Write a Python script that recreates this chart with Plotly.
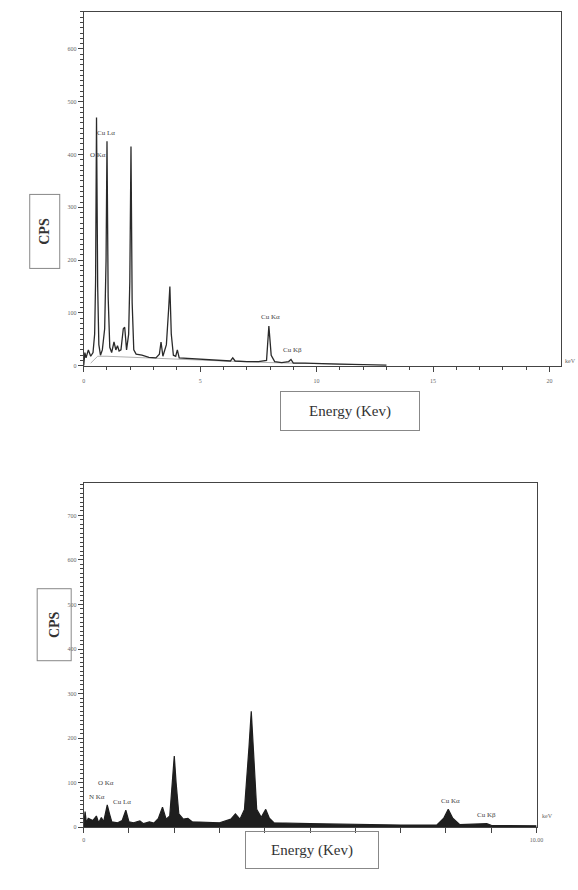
import plotly.graph_objects as go

# ---- Top spectrum (energy keV, CPS) ----
top_energy = [0.0, 0.05, 0.1, 0.2, 0.3, 0.4, 0.47, 0.51, 0.55, 0.6, 0.65, 0.72, 0.8, 0.9, 0.96, 1.0, 1.05, 1.12,
              1.2, 1.3, 1.38, 1.45, 1.52, 1.6, 1.7, 1.76, 1.84, 1.93, 1.98, 2.03, 2.08, 2.15, 2.25, 2.5, 2.8,
              3.1, 3.25, 3.32, 3.4, 3.55, 3.65, 3.7, 3.76, 3.85, 3.95, 4.02, 4.1, 4.4, 5.0, 5.5, 6.0, 6.3,
              6.4, 6.5, 7.0, 7.5, 7.85, 7.95, 8.05, 8.2, 8.5, 8.8, 8.9, 9.0, 9.5, 10.0, 11.0, 12.0, 13.0]
top_cps = [0, 25, 15, 30, 18, 25, 60, 160, 470, 150, 40, 20, 30, 70, 200, 425, 130, 35,
           25, 45, 30, 38, 28, 30, 70, 73, 30, 60, 160, 415, 120, 30, 22, 20, 16,
           15, 22, 45, 18, 40, 110, 150, 60, 20, 18, 30, 15, 14, 12, 11, 10, 9,
           15, 9, 8, 8, 10, 75, 20, 8, 6, 8, 12, 5, 5, 4, 3, 2, 1]

top_bg_energy = [0.3, 0.6, 1.0, 2.0, 3.0, 4.0, 6.0, 8.0, 10.0, 12.0]
top_bg_cps = [5, 18, 18, 16, 14, 12, 9, 6, 4, 2]

top_labels = ["Cu Lα", "O Kα", "Cu Kα", "Cu Kβ"]
top_label_x = [0.95, 0.62, 8.0, 8.95]
top_label_y = [440, 400, 93, 30]

# ---- Bottom spectrum ----
bot_energy = [0.0, 0.03, 0.06, 0.1, 0.2, 0.28, 0.33, 0.39, 0.44, 0.48, 0.52, 0.57, 0.62, 0.75, 0.85, 0.93,
              1.0, 1.1, 1.24, 1.32, 1.45, 1.55, 1.65, 1.74, 1.82, 1.9, 1.96, 2.0, 2.04, 2.1, 2.2, 2.3,
              2.4, 3.0, 3.25, 3.35, 3.45, 3.55, 3.65, 3.7, 3.75, 3.82, 3.92, 4.02, 4.1, 4.2, 5.0, 6.0,
              7.0, 7.8, 7.95, 8.05, 8.15, 8.3, 8.9, 9.0, 10.0]
bot_cps = [0, 35, 10, 20, 15, 25, 10, 22, 12, 30, 50, 30, 12, 10, 15, 38,
           12, 10, 14, 8, 12, 9, 20, 45, 18, 25, 110, 160, 100, 30, 18, 20,
           12, 10, 18, 30, 18, 40, 180, 260, 170, 40, 22, 40, 20, 10, 8, 6,
           5, 5, 20, 40, 20, 6, 8, 4, 3]

bot_labels = ["O Kα", "N Kα", "Cu Lα", "Cu Kα", "Cu Kβ"]
bot_label_x = [0.5, 0.3, 0.85, 8.09, 8.9]
bot_label_y = [100, 67, 56, 58, 27]

top_yticks = [0, 100, 200, 300, 400, 500, 600]
top_xticks = [0, 5, 10, 15, 20]
bot_yticks = [0, 100, 200, 300, 400, 500, 600, 700]
bot_xticks = list(range(0, 11))
bot_xticktext = ["0", "", "", "", "", "", "", "", "", "", "10.00"]

fig = go.Figure()

fig.add_trace(go.Scatter(x=top_bg_energy, y=top_bg_cps, mode="lines",
                         line=dict(color="#9a9a9a", width=0.8), xaxis="x", yaxis="y", hoverinfo="skip"))
fig.add_trace(go.Scatter(x=top_energy, y=top_cps, mode="lines",
                         line=dict(color="#2a2a2a", width=1.3), xaxis="x", yaxis="y"))
fig.add_trace(go.Scatter(x=bot_energy, y=bot_cps, mode="lines", fill="tozeroy",
                         fillcolor="#1e1e1e", line=dict(color="#1e1e1e", width=1.2),
                         xaxis="x2", yaxis="y2"))

tickfont = dict(family="Liberation Serif, serif", size=6, color="#666")
common_axis = dict(showline=True, linecolor="#444", linewidth=1, mirror=True, showgrid=False,
                   zeroline=False, ticks="outside", tickcolor="#444", ticklen=5, tickfont=tickfont)

fig.update_layout(
    width=578, height=890, margin=dict(l=0, r=0, t=0, b=0),
    paper_bgcolor="white", plot_bgcolor="white", showlegend=False,
    xaxis=dict(domain=[83/578, 568/578], range=[0, 20.5], anchor="y",
               tickvals=top_xticks, minor=dict(dtick=1, ticks="outside", ticklen=3, tickcolor="#444"),
               ticklabelstandoff=4, **common_axis),
    yaxis=dict(domain=[1-367/890, 1-12/890], range=[0, 670], anchor="x",
               tickvals=top_yticks, minor=dict(dtick=10, ticks="outside", ticklen=3, tickcolor="#444"),
               **common_axis),
    xaxis2=dict(domain=[83/578, 543/578], range=[0, 10], anchor="y2",
                tickvals=bot_xticks, ticktext=bot_xticktext, ticklabelstandoff=2, **common_axis),
    yaxis2=dict(domain=[1-830/890, 1-485/890], range=[0, 772], anchor="x2",
                tickvals=bot_yticks, minor=dict(dtick=10, ticks="outside", ticklen=3, tickcolor="#444"),
                **common_axis),
)

lab_font = dict(family="Liberation Serif, serif", size=7, color="#444")
for t, x, y in zip(top_labels, top_label_x, top_label_y):
    fig.add_annotation(x=x, y=y, xref="x", yref="y", text=t, showarrow=False, font=lab_font)
for t, x, y in zip(bot_labels, bot_label_x, bot_label_y):
    fig.add_annotation(x=x, y=y, xref="x2", yref="y2", text=t, showarrow=False, font=lab_font)

# keV unit marks
fig.add_annotation(x=570/578, y=1-362/890, xref="paper", yref="paper", text="keV", showarrow=False,
                   xanchor="left", font=dict(family="Liberation Serif, serif", size=6, color="#666"))
fig.add_annotation(x=547/578, y=1-824/890, xref="paper", yref="paper", text="keV", showarrow=False,
                   xanchor="left", font=dict(family="Liberation Serif, serif", size=6, color="#666"))

box_font = dict(family="Liberation Serif, serif", size=15, color="#333")
# Axis title boxes
fig.add_annotation(x=353/578, y=1-412/890, xref="paper", yref="paper", text="Energy (Kev)",
                   showarrow=False, width=138, height=38, borderpad=0, bordercolor="#888",
                   borderwidth=1, font=box_font)
fig.add_annotation(x=315/578, y=1-872/890, xref="paper", yref="paper", text="Energy (Kev)",
                   showarrow=False, width=132, height=36, borderpad=0, bordercolor="#888",
                   borderwidth=1, font=box_font)
fig.add_annotation(x=27.5/578, y=1-194.5/890, xref="paper", yref="paper", text="<b>CPS</b>",
                   textangle=-90, showarrow=False, width=73, height=29, borderpad=0,
                   bordercolor="#888", borderwidth=1, font=dict(family="Liberation Serif, serif", size=14, color="#333"))
fig.add_annotation(x=35.5/578, y=1-663.5/890, xref="paper", yref="paper", text="<b>CPS</b>",
                   textangle=-90, showarrow=False, width=71, height=33, borderpad=0,
                   bordercolor="#888", borderwidth=1, font=dict(family="Liberation Serif, serif", size=14, color="#333"))

fig.write_html("out.html")
